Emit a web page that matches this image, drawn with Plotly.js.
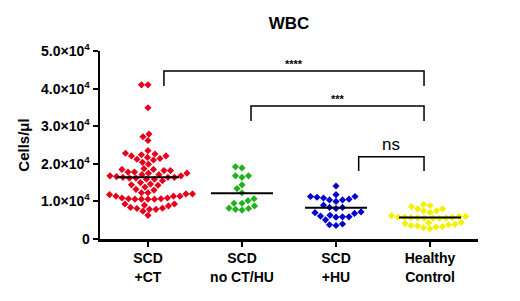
<!DOCTYPE html>
<html>
<head>
<meta charset="utf-8">
<script src="https://cdn.plot.ly/plotly-3.0.1.min.js"></script>
<style>html,body{margin:0;padding:0;background:#fff;}#chart{width:520px;height:301px;}</style>
</head>
<body>
<div id="chart"></div>
<script>
// ---- data (cells/µl) ----
const categories = ["SCD<br>+CT", "SCD<br>no CT/HU", "SCD<br>+HU", "Healthy<br>Control"];
const scdCT = [41000, 41000, 34900, 27900, 27200, 26200,
  23500, 22600, 22100, 21000, 21700, 21200, 21400, 22100, 20400, 22400, 22800, 19900,
  18500, 18200, 17800, 17500, 17100, 16800, 16400, 16200, 16200, 16400, 16400, 16600, 16800, 17100, 17500, 17800, 18200, 18500, 18700,
  15900, 15900,
  15500, 14600, 14300, 13800, 14400, 15000, 13200, 13000,
  12300, 12000, 11400, 11400, 11800, 11400, 12000, 12300,
  10900, 10700, 10600, 10600, 10600, 10600, 10700, 10900,
  9300, 8800, 9000, 9300,
  8400, 8100, 7900, 7400, 7900, 8200,
  6300];
const scdNoCTHU = [18900, 19200, 16800, 16400, 16800, 13400, 14400, 12300, 10700, 10200,
  9500, 8800, 8100, 7700, 7900, 8200, 9500];
const scdHU = [14100, 10600, 11300, 10000, 11100, 10900, 10400, 11300, 11800, 10400,
  9000, 8400, 8400, 8100, 7200, 6800, 5800, 6100, 5900, 6300, 7000, 5900, 5100, 4000, 3600, 3800];
const healthy = [9200, 8600, 8000, 7500, 7500, 8000, 8900,
  7100, 6200,
  6000, 5800, 5700, 5600, 5500, 5500, 5500, 5600, 5700, 5800, 6000,
  4400, 4100, 3800, 3500, 3200, 2700, 3000, 3300, 3600, 3900, 4300];
const groupMeans = [16400, 12200, 8300, 5700];
const yTickVals = [0, 10000, 20000, 30000, 40000, 50000];
const yTickText = ["0", "1.0\u00d710<sup>4</sup>", "2.0\u00d710<sup>4</sup>", "3.0\u00d710<sup>4</sup>", "4.0\u00d710<sup>4</sup>", "5.0\u00d710<sup>4</sup>"];
const comparisons = [
  {from: 0, to: 3, label: "****"},
  {from: 1, to: 3, label: "***"},
  {from: 2, to: 3, label: "ns"}
];

// ---- layout geometry ----
const M = {l: 100, r: 42, t: 51, b: 62};
const W = 520, H = 301;
const xRange = [-0.51, 3.51], yRange = [0, 50000];
const xpx = (W - M.l - M.r) / (xRange[1] - xRange[0]);
const ypx = (H - M.t - M.b) / (yRange[1] - yRange[0]);
const colors = ["#e6001a", "#20b020", "#0000d0", "#f2f200"];
const groups = [scdCT, scdNoCTHU, scdHU, healthy];

// simple deterministic beeswarm in pixel space
function swarm(vals, center, D) {
  const order = vals.map((v, i) => i).sort((a, b) => vals[a] - vals[b]);
  const placed = [];
  const xs = new Array(vals.length);
  for (const i of order) {
    const py = vals[i] * ypx;
    let best = 0;
    for (let k = 0; k < 600; k++) {
      const off = (k % 2 === 0 ? 1 : -1) * Math.ceil(k / 2) * 0.5;
      if (placed.every(p => (p.px - off) ** 2 + (p.py - py) ** 2 >= D * D)) { best = off; break; }
    }
    placed.push({px: best, py: py});
    xs[i] = center + best / xpx;
  }
  return xs;
}

const traces = [];
groups.forEach((g, gi) => {
  traces.push({
    type: "scatter", mode: "markers",
    x: swarm(g, gi, 6.2), y: g,
    marker: {symbol: "diamond", size: 5.5, color: colors[gi], line: {width: 0}},
    hoverinfo: "y", showlegend: false
  });
});
groupMeans.forEach((m, gi) => {
  traces.push({
    type: "scatter", mode: "lines",
    x: [gi - 0.33, gi + 0.33], y: [m, m],
    line: {color: "#000", width: 2},
    hoverinfo: "skip", showlegend: false
  });
});

// significance brackets
const bracketGeom = [
  {x0: 0.17, x1: 2.936, yTop: 44700, yLow: 40700, size: 11},
  {x0: 1.096, x1: 2.936, yTop: 35400, yLow: 31400, size: 11},
  {x0: 2.241, x1: 2.936, yTop: 21900, yLow: 18100, size: 17}
];
const shapes = [], annotations = [];
comparisons.forEach((c, i) => {
  const b = bracketGeom[i];
  shapes.push({
    type: "path", xref: "x", yref: "y",
    path: `M ${b.x0},${b.yLow} L ${b.x0},${b.yTop} L ${b.x1},${b.yTop} L ${b.x1},${b.yLow}`,
    line: {color: "#000", width: 1.5}
  });
  annotations.push({
    x: (b.x0 + b.x1) / 2, y: b.yTop, xref: "x", yref: "y",
    text: c.label, showarrow: false, yanchor: "bottom", yshift: c.label === "ns" ? 1 : -1,
    font: {family: "Liberation Sans, Arial, sans-serif", size: b.size, color: "#000", weight: c.label === "ns" ? "normal" : "bold"}
  });
});

const font = {family: "Liberation Sans, Arial, sans-serif", color: "#000"};
const layout = {
  width: W, height: H,
  margin: M,
  paper_bgcolor: "#fff", plot_bgcolor: "#fff",
  font: font,
  title: {text: "<b>WBC</b>", x: 0.5, xref: "paper", y: 0.925, yanchor: "middle",
    font: {family: font.family, size: 17, color: "#000"}},
  xaxis: {
    range: xRange, tickvals: [0, 1, 2, 3], ticktext: categories,
    showgrid: false, zeroline: false, showline: true, linewidth: 2.5, linecolor: "#000",
    ticks: "outside", ticklen: 5, tickwidth: 2, tickcolor: "#000",
    tickfont: {family: font.family, size: 14, color: "#000", weight: "bold"},
    fixedrange: true
  },
  yaxis: {
    range: yRange, tickvals: yTickVals, ticktext: yTickText,
    showgrid: false, zeroline: false, showline: true, linewidth: 2.5, linecolor: "#000",
    ticks: "outside", ticklen: 5, tickwidth: 2, tickcolor: "#000",
    tickfont: {family: font.family, size: 14, color: "#000", weight: "bold"},
    title: {text: "<b>Cells/\u03bcl</b>", font: {family: font.family, size: 15, color: "#000"}, standoff: 8},
    fixedrange: true
  },
  shapes: shapes,
  annotations: annotations
};
Plotly.newPlot("chart", traces, layout, {displayModeBar: false, staticPlot: true});
</script>
</body>
</html>
